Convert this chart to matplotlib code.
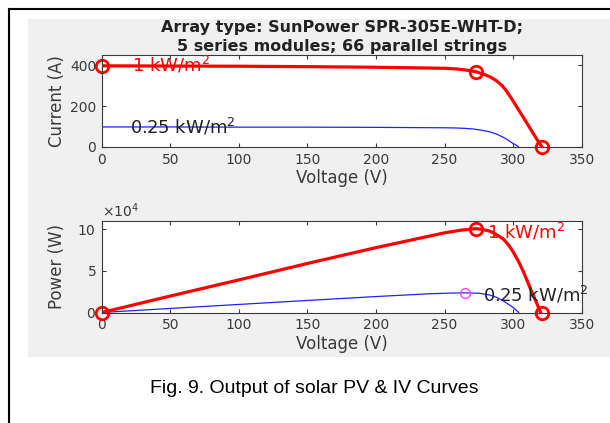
import numpy as np
import matplotlib.pyplot as plt
from matplotlib.patches import Rectangle
from matplotlib.lines import Line2D

# I-V curve, 1 kW/m^2
v_1k = [0, 50, 100, 150, 200, 250, 258, 265, 273, 280, 284, 288, 292, 295, 298.5,
        302, 306, 310, 313, 316, 318.5, 321]
i_1k = [397, 396, 395, 393, 390, 385, 382, 377, 368, 352, 340, 323, 300, 275, 240,
        203, 160, 117, 84, 51, 25, 0]
# I-V curve, 0.25 kW/m^2
v_q = [0, 50, 100, 150, 200, 250, 258, 265, 271, 277, 283, 288, 292.6, 296, 299, 302, 304]
i_q = [98, 98, 97, 97, 96, 94, 93, 91, 88, 82, 74, 63, 48, 35, 21, 10, 0]

# P-V curve, 1 kW/m^2
v_p1k = [0, 50, 100, 150, 200, 250, 262, 273, 278, 283, 286, 290, 293, 296.5, 300,
         304, 307.5, 310.5, 313.5, 317, 320]
p_1k = [0, 0.198e5, 0.392e5, 0.59e5, 0.78e5, 0.958e5, 0.99e5, 1.008e5, 0.998e5, 0.978e5,
        0.955e5, 0.915e5, 0.88e5, 0.815e5, 0.73e5, 0.61e5, 0.49e5, 0.37e5, 0.25e5, 0.12e5, 0]
# P-V curve, 0.25 kW/m^2
v_pq = [0, 50, 100, 150, 200, 240, 255, 265, 275, 283, 288, 292.8, 296.5, 300, 302, 304]
p_q = [0, 0.049e5, 0.097e5, 0.145e5, 0.192e5, 0.226e5, 0.234e5, 0.236e5, 0.232e5, 0.21e5,
       0.182e5, 0.14e5, 0.1e5, 0.06e5, 0.03e5, 0]

# marked points
mark_iv_v = [0, 273, 321]
mark_iv_i = [397, 368, 0]
mark_pv_v = [0, 273, 321]
mark_pv_p = [0, 1.008e5, 0]
mpp_q = (265, 0.236e5)

x_ticks = [0, 50, 100, 150, 200, 250, 300, 350]

title = 'Array type: SunPower SPR-305E-WHT-D;\n5 series modules; 66 parallel strings'
caption = 'Fig. 9. Output of solar PV & IV Curves'

plt.rcParams['font.family'] = 'DejaVu Sans'
axcol = '#3a3a3a'

fig = plt.figure(figsize=(6.1, 4.23), dpi=100)
fig.patch.set_facecolor('white')

# gray matlab figure panel and page frame
fig.patches.append(Rectangle((28/610, 66/423), 1 - 28/610, (357-19)/423,
                             transform=fig.transFigure, facecolor='#f0f0f0',
                             edgecolor='none', zorder=-10))
fig.lines.append(Line2D([9/610, 1], [414/423, 414/423], transform=fig.transFigure,
                        color='black', lw=1.5, zorder=-10))
fig.lines.append(Line2D([9/610, 9/610], [0, 414/423], transform=fig.transFigure,
                        color='black', lw=1.5, zorder=-10))

ax1 = fig.add_axes([0.1667, 0.6525, 0.787, 0.2175])
ax2 = fig.add_axes([0.1667, 0.2612, 0.787, 0.2163])

for ax in (ax1, ax2):
    ax.set_facecolor('white')
    ax.set_xlim(0, 350)
    ax.set_xticks(x_ticks)
    ax.tick_params(direction='in', top=True, right=True, length=3,
                   labelsize=10, colors=axcol, pad=4)
    for s in ax.spines.values():
        s.set_color(axcol)
        s.set_linewidth(0.8)
    ax.set_xlabel('Voltage (V)', fontsize=12, color=axcol, labelpad=2)

# I-V
ax1.plot(v_q, i_q, color='#2020ff', lw=0.9)
ax1.plot(v_1k, i_1k, color='red', lw=2.3)
ax1.plot(mark_iv_v, mark_iv_i, 'o', color='red', mfc='none', ms=9, mew=2, clip_on=False)
ax1.set_ylim(0, 450)
ax1.set_yticks([0, 200, 400])
ax1.set_ylabel('Current (A)', fontsize=12, color=axcol, labelpad=3)
ax1.text(22, 400, '1 kW/m$^2$', color='red', fontsize=13, va='center')
ax1.text(21, 100, '0.25 kW/m$^2$', color='#222222', fontsize=13, va='center')
ax1.set_title(title, fontsize=11.5, fontweight='bold', color='#222222', pad=3,
              linespacing=1.3)

# P-V
ax2.plot(v_pq, p_q, color='#2020ff', lw=0.9)
ax2.plot(v_p1k, p_1k, color='red', lw=2.3)
ax2.plot(mark_pv_v, mark_pv_p, 'o', color='red', mfc='none', ms=9, mew=2, clip_on=False)
ax2.plot([mpp_q[0]], [mpp_q[1]], 'o', color='#ff44ff', mfc='none', ms=7, mew=1)
ax2.set_ylim(0, 1.1e5)
ax2.set_yticks([0, 5e4, 1e5])
ax2.ticklabel_format(axis='y', style='sci', scilimits=(4, 4), useMathText=True)
ax2.yaxis.get_offset_text().set_fontsize(10)
ax2.yaxis.get_offset_text().set_color(axcol)
ax2.set_ylabel('Power (W)', fontsize=12, color=axcol, labelpad=8)
ax2.text(281, 0.968e5, '1 kW/m$^2$', color='red', fontsize=13, va='center')
ax2.text(278, 0.208e5, '0.25 kW/m$^2$', color='#222222', fontsize=13, va='center')

fig.text(314/610, 1 - 388/423, caption, fontsize=14, family='Liberation Sans',
         ha='center', va='center', color='black')

fig.savefig('out.png', dpi=100)
